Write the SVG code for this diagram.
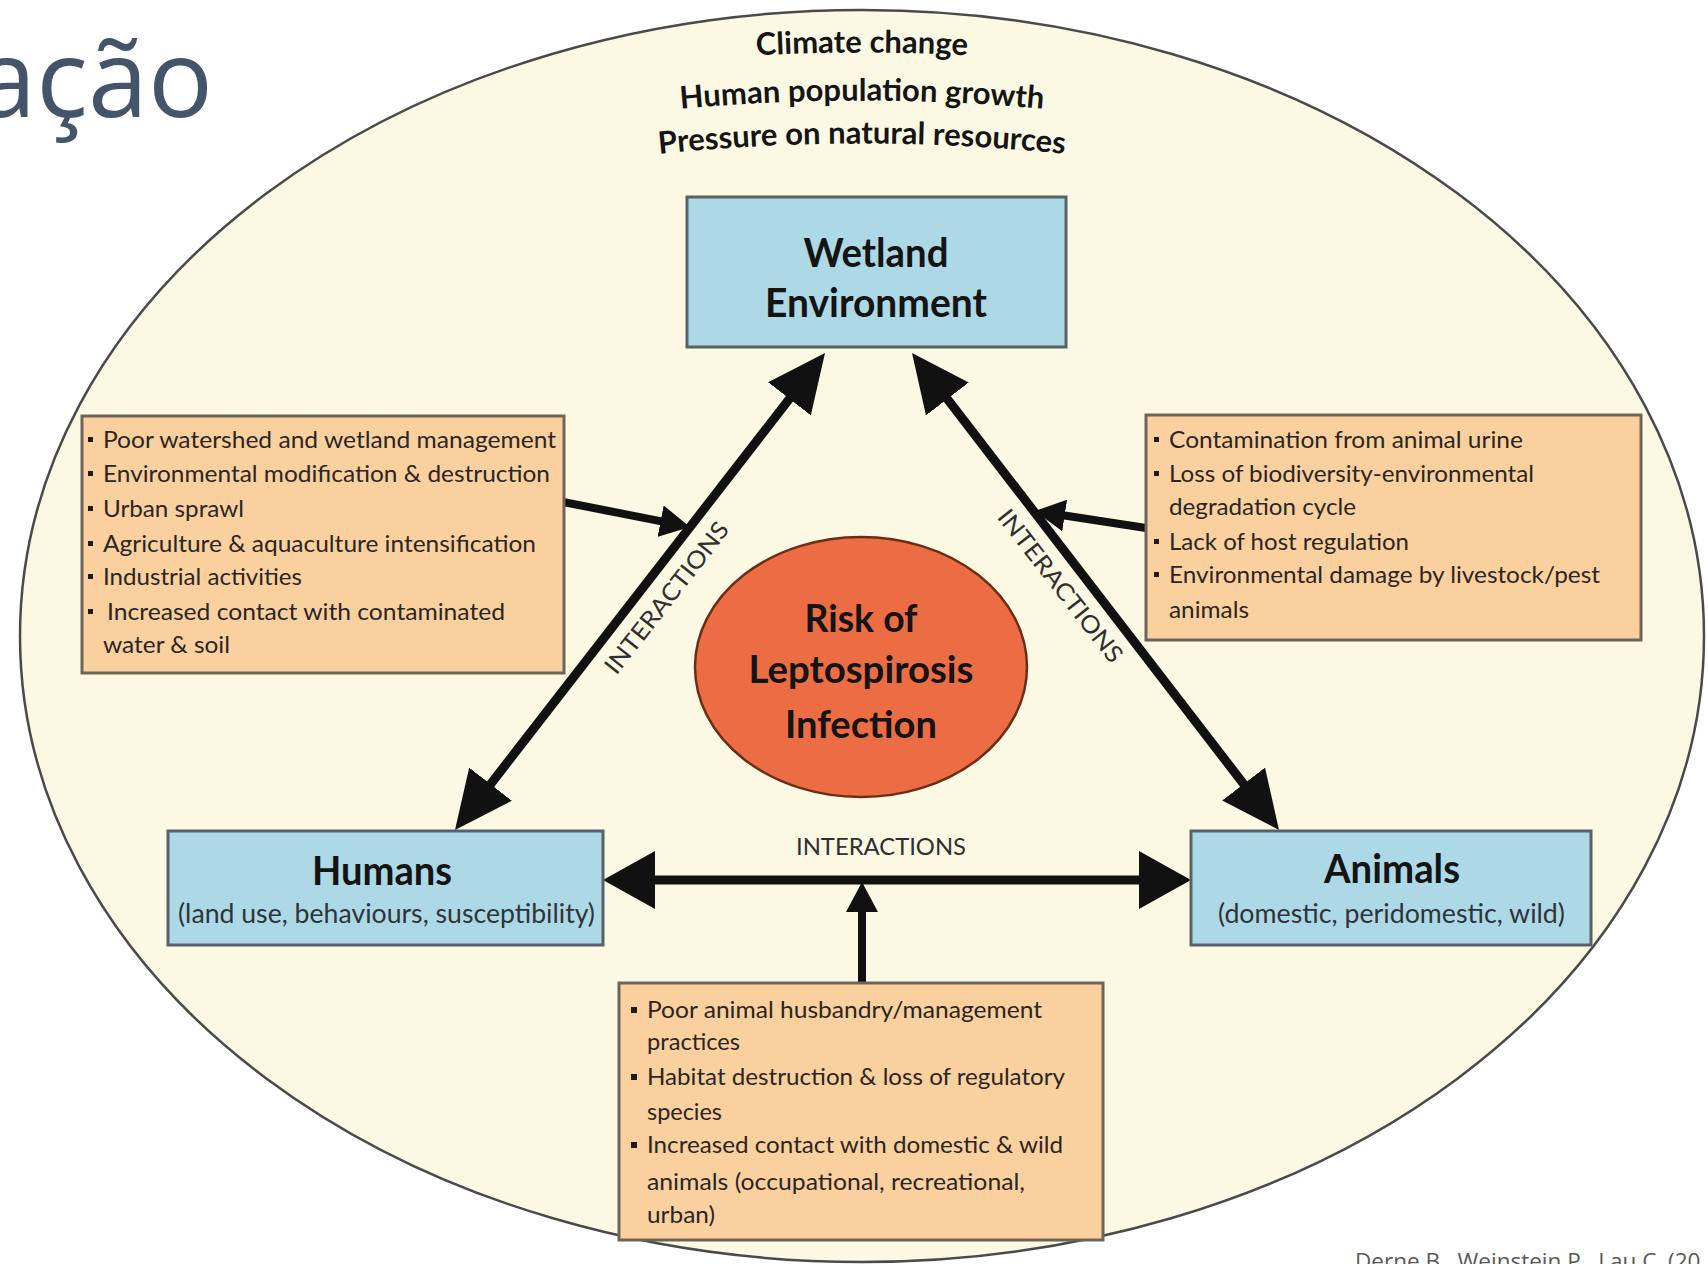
<svg xmlns="http://www.w3.org/2000/svg" width="1708" height="1264" viewBox="0 0 1708 1264">
  <style>
    .bg { fill: #ffffff; }
    .frame { fill: #FBF9E3; stroke: #4a4a4a; stroke-width: 2.5; }
    .blue { fill: #ADD8E6; stroke: #5a6268; stroke-width: 3; }
    .orange { fill: #FBD09F; stroke: #6e6558; stroke-width: 3; }
    .risk { fill: #EC6C44; stroke: #6b2d18; stroke-width: 2.5; }
    .h { font-family: Lato, "Open Sans", sans-serif; font-weight: 700; fill: #141414; text-anchor: middle; }
    .sub { font-family: Lato, "Open Sans", sans-serif; font-size: 26px; fill: #2e3438; text-anchor: middle; }
    .t { font-family: Lato, "Open Sans", sans-serif; font-size: 24px; fill: #2a2623; }
    .top { font-family: Lato, "Open Sans", sans-serif; font-weight: 700; font-size: 31px; fill: #151515; }
    .ia { font-family: Lato, "Open Sans", sans-serif; font-size: 24px; fill: #2f2f2f; text-anchor: middle; }
    .b { fill: #1e1b18; }
    .ln { stroke: #111111; fill: none; }
    .title { font-family: "Open Sans", "Noto Sans", sans-serif; font-size: 108px; fill: #44546A; text-anchor: end; }
    .cite { font-family: "Open Sans", "Noto Sans", sans-serif; font-size: 22.5px; fill: #595959; }
  </style>
  <defs>
    <marker id="hd" markerUnits="userSpaceOnUse" viewBox="0 0 58 54" markerWidth="58" markerHeight="54" refX="18" refY="27" orient="auto-start-reverse">
      <path d="M0,0 L58,27 L0,54 z" fill="#111111"/>
    </marker>
    <marker id="hh" markerUnits="userSpaceOnUse" viewBox="0 0 52 58" markerWidth="52" markerHeight="58" refX="12" refY="29" orient="auto-start-reverse">
      <path d="M0,0 L52,29 L0,58 z" fill="#111111"/>
    </marker>
    <marker id="hs" markerUnits="userSpaceOnUse" viewBox="0 0 30 32" markerWidth="30" markerHeight="32" refX="10" refY="16" orient="auto">
      <path d="M0,0 L30,16 L0,32 z" fill="#111111"/>
    </marker>
    <path id="arc1" d="M 462 93 A 2000 2000 0 0 1 1262 93"/>
    <path id="arc2" d="M 462 141 A 2000 2000 0 0 1 1262 141"/>
    <path id="arc3" d="M 462 184 A 2000 2000 0 0 1 1262 184"/>
  </defs>

  <rect class="bg" x="0" y="0" width="1708" height="1264"/>

  <g id="slide-title">
    <text class="title" x="213" y="117">ação</text>
  </g>

  <g id="context">
    <ellipse class="frame" cx="862" cy="636" rx="842" ry="626"/>
    <text class="top"><textPath href="#arc1" startOffset="50%" text-anchor="middle">Climate change</textPath></text>
    <text class="top"><textPath href="#arc2" startOffset="50%" text-anchor="middle">Human population growth</textPath></text>
    <text class="top"><textPath href="#arc3" startOffset="50%" text-anchor="middle">Pressure on natural resources</textPath></text>
  </g>

  <g id="connectors">
    <line class="ln" x1="479.5" y1="798.4" x2="800.5" y2="384.6" stroke-width="9" marker-start="url(#hd)" marker-end="url(#hd)"/>
    <line class="ln" x1="936.4" y1="384.7" x2="1254.6" y2="798.3" stroke-width="9" marker-start="url(#hd)" marker-end="url(#hd)"/>
    <line class="ln" x1="643" y1="880" x2="1151" y2="880" stroke-width="9" marker-start="url(#hh)" marker-end="url(#hh)"/>
    <line class="ln" x1="563" y1="502" x2="670.4" y2="523.1" stroke-width="8" marker-end="url(#hs)"/>
    <line class="ln" x1="1146" y1="528" x2="1054.8" y2="514" stroke-width="8" marker-end="url(#hs)"/>
    <line class="ln" x1="862" y1="983" x2="862" y2="902" stroke-width="8" marker-end="url(#hs)"/>
    <text class="ia" transform="translate(667,598) rotate(-52)" x="0" y="8" textLength="185" lengthAdjust="spacingAndGlyphs">INTERACTIONS</text>
    <text class="ia" transform="translate(1060,586) rotate(52)" x="0" y="8" textLength="187" lengthAdjust="spacingAndGlyphs">INTERACTIONS</text>
    <text class="ia" x="881" y="855" font-size="26" textLength="170" lengthAdjust="spacingAndGlyphs">INTERACTIONS</text>
  </g>

  <g id="wetland">
    <rect class="blue" x="687" y="197" width="379" height="150"/>
    <text class="h" x="876" y="267" font-size="40" textLength="145" lengthAdjust="spacingAndGlyphs">Wetland</text>
    <text class="h" x="876" y="317" font-size="40" textLength="222" lengthAdjust="spacingAndGlyphs">Environment</text>
  </g>

  <g id="humans">
    <rect class="blue" x="168" y="831" width="435" height="114"/>
    <text class="h" x="382" y="885" font-size="40" textLength="140" lengthAdjust="spacingAndGlyphs">Humans</text>
    <text class="sub" x="386.5" y="923" textLength="417" lengthAdjust="spacingAndGlyphs">(land use, behaviours, susceptibility)</text>
  </g>

  <g id="animals">
    <rect class="blue" x="1191" y="831" width="400" height="114"/>
    <text class="h" x="1392" y="883" font-size="40" textLength="136" lengthAdjust="spacingAndGlyphs">Animals</text>
    <text class="sub" x="1391.5" y="923" textLength="347" lengthAdjust="spacingAndGlyphs">(domestic, peridomestic, wild)</text>
  </g>

  <g id="risk">
    <ellipse class="risk" cx="861" cy="667" rx="166" ry="130"/>
    <text class="h" x="861" y="632" font-size="38" textLength="113" lengthAdjust="spacingAndGlyphs">Risk of</text>
    <text class="h" x="861" y="683" font-size="38" textLength="225" lengthAdjust="spacingAndGlyphs">Leptospirosis</text>
    <text class="h" x="861" y="738" font-size="38" textLength="152" lengthAdjust="spacingAndGlyphs">Infection</text>
  </g>

  <g id="environment-drivers">
    <rect class="orange" x="82" y="416" width="482" height="257"/>
    <rect class="b" x="88" y="437" width="5" height="5"/>
    <rect class="b" x="88" y="471" width="5" height="5"/>
    <rect class="b" x="88" y="506" width="5" height="5"/>
    <rect class="b" x="88" y="541" width="5" height="5"/>
    <rect class="b" x="88" y="574" width="5" height="5"/>
    <rect class="b" x="88" y="609" width="5" height="5"/>
    <text class="t" x="103" y="448" textLength="453" lengthAdjust="spacingAndGlyphs">Poor watershed and wetland management</text>
    <text class="t" x="103" y="482" textLength="447" lengthAdjust="spacingAndGlyphs">Environmental modification &amp; destruction</text>
    <text class="t" x="103" y="517" textLength="141" lengthAdjust="spacingAndGlyphs">Urban sprawl</text>
    <text class="t" x="103" y="552" textLength="433" lengthAdjust="spacingAndGlyphs">Agriculture &amp; aquaculture intensification</text>
    <text class="t" x="103" y="585" textLength="199" lengthAdjust="spacingAndGlyphs">Industrial activities</text>
    <text class="t" x="107" y="620" textLength="398" lengthAdjust="spacingAndGlyphs">Increased contact with contaminated</text>
    <text class="t" x="103" y="653" textLength="127" lengthAdjust="spacingAndGlyphs">water &amp; soil</text>
  </g>

  <g id="animal-drivers">
    <rect class="orange" x="1146" y="415" width="495" height="225"/>
    <rect class="b" x="1154" y="437" width="5" height="5"/>
    <rect class="b" x="1154" y="471" width="5" height="5"/>
    <rect class="b" x="1154" y="539" width="5" height="5"/>
    <rect class="b" x="1154" y="572" width="5" height="5"/>
    <text class="t" x="1169" y="448" textLength="354" lengthAdjust="spacingAndGlyphs">Contamination from animal urine</text>
    <text class="t" x="1169" y="482" textLength="365" lengthAdjust="spacingAndGlyphs">Loss of biodiversity-environmental</text>
    <text class="t" x="1169" y="515" textLength="187" lengthAdjust="spacingAndGlyphs">degradation cycle</text>
    <text class="t" x="1169" y="550" textLength="240" lengthAdjust="spacingAndGlyphs">Lack of host regulation</text>
    <text class="t" x="1169" y="583" textLength="431" lengthAdjust="spacingAndGlyphs">Environmental damage by livestock/pest</text>
    <text class="t" x="1169" y="618" textLength="80" lengthAdjust="spacingAndGlyphs">animals</text>
  </g>

  <g id="interaction-drivers">
    <rect class="orange" x="619" y="983" width="484" height="257"/>
    <rect class="b" x="631" y="1007" width="6" height="6"/>
    <rect class="b" x="631" y="1074" width="6" height="6"/>
    <rect class="b" x="631" y="1142" width="6" height="6"/>
    <text class="t" x="647" y="1018" textLength="395" lengthAdjust="spacingAndGlyphs">Poor animal husbandry/management</text>
    <text class="t" x="647" y="1050" textLength="93" lengthAdjust="spacingAndGlyphs">practices</text>
    <text class="t" x="647" y="1085" textLength="418" lengthAdjust="spacingAndGlyphs">Habitat destruction &amp; loss of regulatory</text>
    <text class="t" x="647" y="1120" textLength="75" lengthAdjust="spacingAndGlyphs">species</text>
    <text class="t" x="647" y="1153" textLength="416" lengthAdjust="spacingAndGlyphs">Increased contact with domestic &amp; wild</text>
    <text class="t" x="647" y="1190" textLength="378" lengthAdjust="spacingAndGlyphs">animals (occupational, recreational,</text>
    <text class="t" x="647" y="1223" textLength="68" lengthAdjust="spacingAndGlyphs">urban)</text>
  </g>

  <g id="citation">
    <text class="cite" x="1355" y="1269">Derne B., Weinstein P., Lau C. (20</text>
  </g>
</svg>
